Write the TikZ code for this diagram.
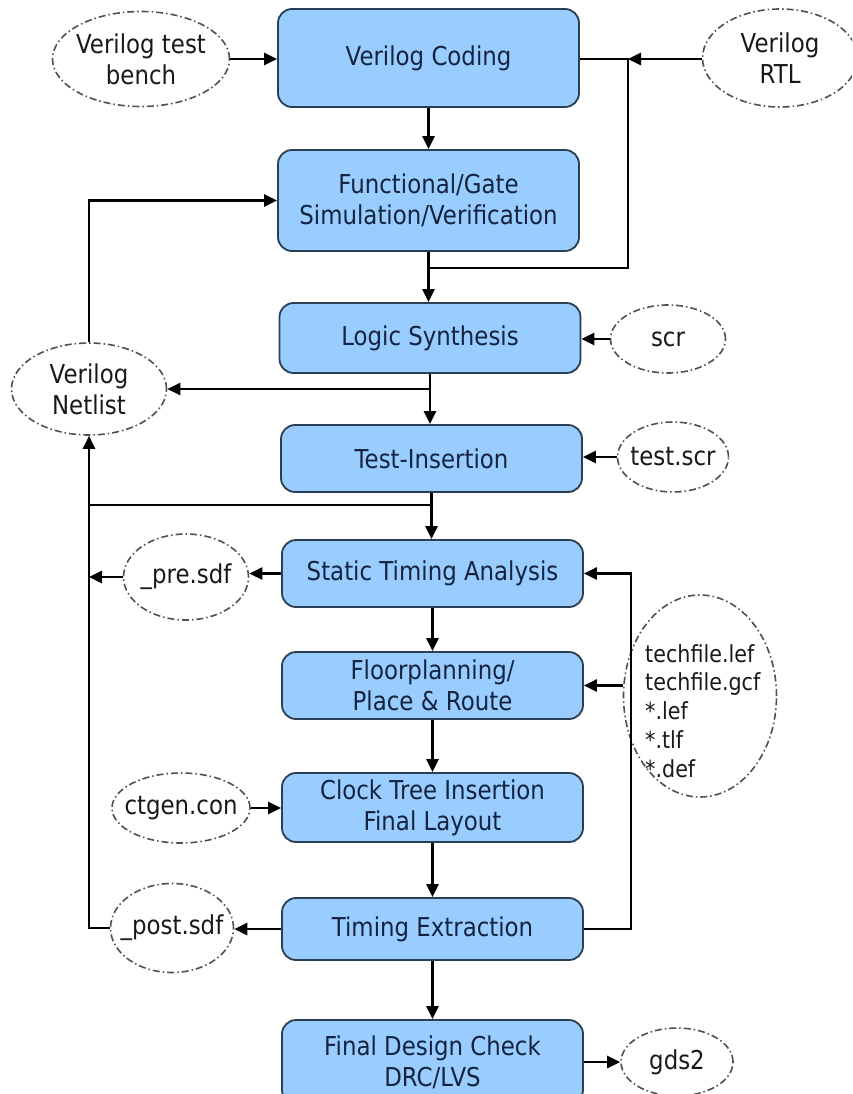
\documentclass[tikz,border=0pt]{standalone}
\usepackage{fontspec}
\setmainfont{DejaVu Sans}[FakeStretch=0.88]
\usetikzlibrary{shapes.geometric,arrows.meta}

\definecolor{boxfill}{RGB}{153,204,255}
\definecolor{boxline}{RGB}{42,62,84}
\definecolor{boxtext}{RGB}{20,36,64}
\definecolor{ioline}{RGB}{80,80,80}
\definecolor{iotext}{RGB}{25,25,25}

\tikzset{
  stage/.style={draw=boxline, line width=1.8pt, fill=boxfill, rounded corners=14pt,
    text=boxtext, align=center, font=\fontsize{26}{31}\selectfont, inner sep=0pt,
    minimum width=301pt},
  io/.style={ellipse, draw=ioline, line width=1.6pt,
    dash pattern=on 7pt off 3pt on 1.5pt off 3pt, inner sep=0pt},
  iolabel/.style={text=iotext, align=center, font=\fontsize{26}{31}\selectfont, inner sep=0pt},
  flow/.style={line width=2.6pt, -{Triangle[length=13pt,width=12pt]}},
  wire/.style={line width=2.6pt},
}

\begin{document}
\begin{tikzpicture}[x=1pt,y=-1pt]
  \fill[white] (0,0) rectangle (852,1094);
  \useasboundingbox (0,0) rectangle (852,1094);
  \clip (0,0) rectangle (852,1094);

  % design flow stages
  \node[stage, minimum height=98pt]  (vc)  at (428.5,58)    {Verilog Coding};
  \node[stage, minimum height=101pt] (fg)  at (428.5,200.5) {Functional/Gate\\Simulation/Verification};
  \node[stage, minimum height=70pt]  (ls)  at (430,338)     {Logic Synthesis};
  \node[stage, minimum height=67pt]  (ti)  at (431.5,458.5) {Test-Insertion};
  \node[stage, minimum height=67pt]  (sta) at (432.5,573.5) {Static Timing Analysis};
  \node[stage, minimum height=67pt]  (fp)  at (432.5,685.5) {Floorplanning/\\Place \& Route};
  \node[stage, minimum height=69pt]  (ct)  at (432.5,807.5) {Clock Tree Insertion\\Final Layout};
  \node[stage, minimum height=62pt]  (te)  at (432.5,929)   {Timing Extraction};
  \node[stage, minimum height=84pt]  (fdc) at (432.5,1062)  {Final Design Check\\DRC/LVS};

  % input and output files
  \node[io, minimum width=177pt, minimum height=95pt] (tb)  at (141,59)  {};
  \node[iolabel] (tbl) at (tb) {Verilog test\\bench};
  \node[io, minimum width=155pt, minimum height=98pt] (rtl) at (780,58)  {};
  \node[iolabel] (rtll) at (rtl) {Verilog\\RTL};
  \node[io, minimum width=115pt, minimum height=68pt] (scr) at (668,339) {};
  \node[iolabel] (scrl) at (scr) {scr};
  \node[io, minimum width=155pt, minimum height=92pt] (nl)  at (89,389)  {};
  \node[iolabel] (nll) at (nl) {Verilog\\Netlist};
  \node[io, minimum width=111pt, minimum height=70pt] (ts)  at (673,457) {};
  \node[iolabel] (tsl) at (ts) {test.scr};
  \node[io, minimum width=125pt, minimum height=86pt] (pre) at (186,577) {};
  \node[iolabel] (prel) at (pre) {\_pre.sdf};
  \node[io, minimum width=153pt, minimum height=202pt] (tf) at (700,696) {};
  \node[iolabel, anchor=west, align=left, font=\fontsize{23.5}{28.8}\selectfont] (tfl) at (645,711)
    {techfile.lef\\techfile.gcf\\*.lef\\*.tlf\\*.def};
  \node[io, minimum width=138pt, minimum height=70pt] (cg)  at (181,808) {};
  \node[iolabel] (cgl) at (cg) {ctgen.con};
  \node[io, minimum width=123pt, minimum height=89pt] (ps)  at (172,928) {};
  \node[iolabel] (psl) at (ps) {\_post.sdf};
  \node[io, minimum width=112pt, minimum height=68pt] (gd)  at (677,1062) {};
  \node[iolabel] (gdl) at (gd) {gds2};

  % routing points
  \coordinate (jr)  at (628,59);
  \coordinate (jb)  at (628,268);
  \coordinate (jt)  at (89,505);
  \coordinate (rx)  at (631,0);

  % main flow
  \draw[flow] (vc.south) -- (fg.north);
  \draw[flow] (fg.south) -- (fg.south |- ls.north);
  \draw[flow] (ls.south) -- (ls.south |- ti.north);
  \draw[flow] (ti.south) -- (ti.south |- sta.north);
  \draw[flow] (sta.south) -- (fp.north);
  \draw[flow] (fp.south) -- (ct.north);
  \draw[flow] (ct.south) -- (te.north);
  \draw[flow] (te.south) -- (fdc.north);

  % inputs
  \draw[flow] (tb.east) -- (tb.east -| vc.west);
  \draw[wire] (vc.east |- jr) -- (jr) -- (jb) -- (jb -| fg.south);
  \draw[flow] (rtl.west |- jr) -- (jr);
  \draw[flow] (scr.west) -- (scr.west -| ls.east);
  \draw[flow] (ts.west) -- (ts.west -| ti.east);
  \draw[flow] (tf.west |- fp.east) -- (fp.east);
  \draw[flow] (cg.east) -- (cg.east -| ct.west);

  % netlist and timing feedback
  \draw[flow] (ls.south |- nl.east) -- (nl.east);
  \draw[flow] (nl.north) |- (fg.west);
  \draw[wire] (ti.south |- jt) -- (jt);
  \draw[flow] (sta.west) -- (sta.west -| pre.east);
  \draw[flow] (pre.west) -- (pre.west -| nl.south);
  \draw[flow] (te.west) -- (te.west -| ps.east);
  \draw[flow] (ps.west) -- (ps.west -| nl.south) -- (nl.south);
  \draw[flow] (te.east) -- (te.east -| rx) |- (sta.east);

  % outputs
  \draw[flow] (fdc.east) -- (gd.west);
\end{tikzpicture}
\end{document}
